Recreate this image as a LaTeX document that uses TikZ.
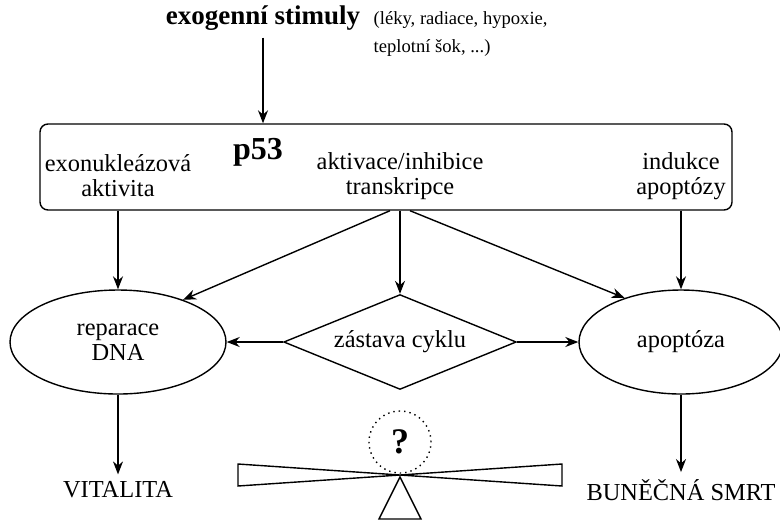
\documentclass[tikz,border=0pt]{standalone}
\usepackage{fontspec}
\setmainfont{Liberation Serif}
\usetikzlibrary{shapes.geometric, arrows.meta}

\begin{document}
\begin{tikzpicture}[x=0.5pt, y=-0.5pt, line width=0.7pt,
    arr/.style={-{Stealth[length=6.5pt, width=5pt]}},
    txt/.style={font=\fontsize{12.2}{12.5}\selectfont, align=center},
    oval/.style={draw, ellipse, txt, minimum height=52pt}]

  \useasboundingbox (0, 0) rectangle (780, 521);

  % stimuly
  \node[font=\bfseries\fontsize{13.5}{15}\selectfont] (stim) at (263, 18) {exogenní stimuly};
  \node[font=\fontsize{9.3}{14}\selectfont, align=left, anchor=west, inner sep=0pt]
    (list) at (373, 34) {(léky, radiace, hypoxie,\\teplotní šok, ...)};

  % p53
  \node[draw, rounded corners=4pt, minimum width=346pt, minimum height=43pt] (box) at (386, 167) {};
  \node[font=\bfseries\fontsize{16}{18}\selectfont] (p53) at (258, 152) {p53};
  \node[txt] (exo) at (118, 176) {exonukleázová\\aktivita};
  \node[txt] (akt) at (400, 176) {aktivace/inhibice\\transkripce};
  \node[txt] (ind) at (681, 176) {indukce\\apoptózy};

  \node[oval, minimum width=108pt] (rep) at (118, 342) {reparace\\DNA};
  \node[draw, diamond, txt, aspect=2.45, minimum width=115pt, minimum height=47pt] (cyc) at (400, 342) {zástava cyklu};
  \node[oval, minimum width=102pt] (apo) at (681, 342) {apoptóza};

  \node[txt] (vit) at (118, 490) {VITALITA};
  \node[txt] (smrt) at (681, 490) {BUNĚČNÁ SMRT};

  \draw[arr] (stim.south) -- (stim.south |- box.north);
  \draw[arr] (rep |- box.south) -- (rep);
  \draw[arr] (cyc |- box.south) -- (cyc);
  \draw[arr] (apo |- box.south) -- (apo);
  \draw[arr] ([xshift=-5pt]cyc |- box.south) -- (rep.33);
  \draw[arr] ([xshift=5pt]cyc |- box.south) -- (apo.142);
  \draw[arr] (cyc) -- (rep);
  \draw[arr] (cyc) -- (apo);
  \draw[arr] (rep) -- (vit);
  \draw[arr] (apo) -- (smrt);

  % vahy
  \node[draw, dotted, circle, minimum size=31pt, inner sep=0pt,
    font=\bfseries\fontsize{18}{20}\selectfont] (q) at (400, 442) {?};
  \draw (238, 464) -- (562, 486) -- (562, 464) -- (238, 486) -- cycle;
  \draw (400, 477) -- (421, 519) -- (379, 519) -- cycle;

\end{tikzpicture}
\end{document}
